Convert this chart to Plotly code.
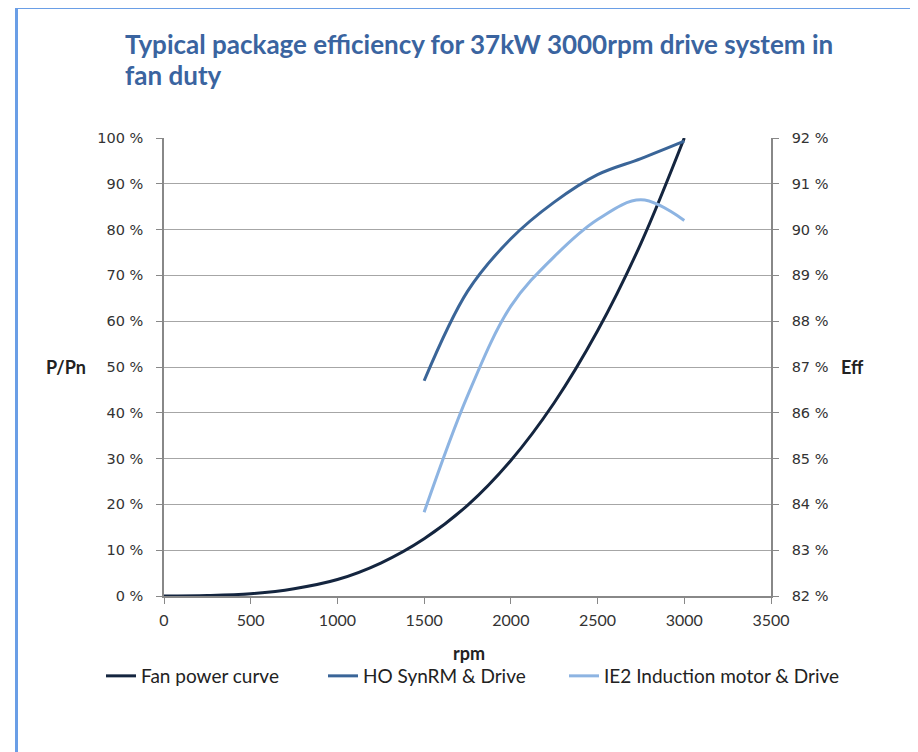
import plotly.graph_objects as go

# ---- data ----
rpm_fan = [0, 250, 500, 750, 1000, 1250, 1500, 1750, 2000, 2250, 2500, 2750, 3000]
fan_power = [0, 0.1, 0.5, 1.6, 3.6, 7.2, 12.5, 19.8, 29.6, 42.2, 57.9, 77.0, 100]

rpm_eff = [1500, 1750, 2000, 2250, 2500, 2750, 3000]
synrm_eff = [86.7, 88.65, 89.8, 90.6, 91.2, 91.55, 91.93]
ie2_eff = [83.83, 86.37, 88.33, 89.41, 90.22, 90.65, 90.2]

names = ["Fan power curve", "HO SynRM & Drive", "IE2 Induction motor & Drive"]
colors = ["#14253F", "#3A6598", "#8DB4E2"]

x_ticks = [0, 500, 1000, 1500, 2000, 2500, 3000, 3500]
y_ticks = [0, 10, 20, 30, 40, 50, 60, 70, 80, 90, 100]
y_tick_text = ["0 %", "10 %", "20 %", "30 %", "40 %", "50 %", "60 %", "70 %", "80 %", "90 %", "100 %"]
y2_ticks = [82, 83, 84, 85, 86, 87, 88, 89, 90, 91, 92]
y2_tick_text = ["82 %", "83 %", "84 %", "85 %", "86 %", "87 %", "88 %", "89 %", "90 %", "91 %", "92 %"]

title_l1 = "Typical package efficiency for 37kW 3000rpm drive system in"
title_l2 = "fan duty"

# ---- figure ----
OFF = 8  # page body margin
W, H = 918 - OFF, 752 - OFF
L, R, T, B = 164, 771, 138, 596  # plot area in page pixels

def px_x(p):
    return (p - L) / (R - L)

def px_y(p):
    return (B - p) / (B - T)

legend_ids = ["legend", "legend2", "legend3"]
legend_x = [101, 323, 564]

fig = go.Figure()
fig.add_trace(go.Scatter(x=rpm_fan, y=fan_power, name=names[0], mode="lines", legend=legend_ids[0],
                         line=dict(color=colors[0], width=3, shape="spline"), yaxis="y"))
fig.add_trace(go.Scatter(x=rpm_eff, y=synrm_eff, name=names[1], mode="lines", legend=legend_ids[1],
                         line=dict(color=colors[1], width=3, shape="spline"), yaxis="y2"))
fig.add_trace(go.Scatter(x=rpm_eff, y=ie2_eff, name=names[2], mode="lines", legend=legend_ids[2],
                         line=dict(color=colors[2], width=3, shape="spline"), yaxis="y2"))

tickfont = dict(family="DejaVu Sans", size=14.5, color="#333333")
calib = "Lato, Liberation Sans"

legend_style = dict(orientation="h", yanchor="top", xanchor="left", y=px_y(657),
                    font=dict(family=calib, size=19, color="#222222"), bgcolor="rgba(0,0,0,0)")

fig.update_layout(
    width=W, height=H,
    margin=dict(l=L - OFF, r=W - (R - OFF), t=T - OFF, b=H - (B - OFF)),
    paper_bgcolor="white", plot_bgcolor="white",
    showlegend=True,
    legend=dict(x=px_x(legend_x[0]) - (OFF / (R - L)) * 0 - (7 - 7) / (R - L), **legend_style),
    legend2=dict(x=px_x(legend_x[1]), **legend_style),
    legend3=dict(x=px_x(legend_x[2]), **legend_style),
    xaxis=dict(range=[0, 3500], tickvals=x_ticks, showgrid=False, zeroline=False,
               showline=True, linecolor="#888888", linewidth=1.5,
               ticks="outside", ticklen=6, tickcolor="#888888", ticklabelstandoff=3,
               tickfont=dict(family=calib, size=16, color="#333333")),
    yaxis=dict(range=[0, 100], tickvals=y_ticks, ticktext=y_tick_text, showgrid=True,
               gridcolor="#A6A6A6", gridwidth=1.3, zeroline=False,
               showline=True, linecolor="#888888", linewidth=1.5, ticklabelstandoff=10,
               ticks="outside", ticklen=6, tickcolor="#888888", tickfont=tickfont),
    yaxis2=dict(range=[82, 92], tickvals=y2_ticks, ticktext=y2_tick_text, overlaying="y", side="right",
                showgrid=False, zeroline=False, showline=True, linecolor="#888888", linewidth=1.5,
                ticks="outside", ticklen=6, tickcolor="#888888", ticklabelstandoff=10, tickfont=tickfont),
)

title_font = dict(family="Lato", size=26, color="#3A64A0")
fig.add_annotation(text="<b>" + title_l1 + "</b>", xref="paper", yref="paper",
                   x=px_x(123), y=px_y(44), xanchor="left", yanchor="middle",
                   showarrow=False, font=title_font)
fig.add_annotation(text="<b>" + title_l2 + "</b>", xref="paper", yref="paper",
                   x=px_x(123), y=px_y(75), xanchor="left", yanchor="middle",
                   showarrow=False, font=title_font)

label_font = dict(family="Lato", size=18, color="#222222")
fig.add_annotation(text="<b>P/Pn</b>", xref="paper", yref="paper", x=px_x(44), y=px_y(367),
                   xanchor="left", yanchor="middle", showarrow=False, font=label_font)
fig.add_annotation(text="<b>Eff</b>", xref="paper", yref="paper", x=px_x(839), y=px_y(367),
                   xanchor="left", yanchor="middle", showarrow=False, font=label_font)
fig.add_annotation(text="<b>rpm</b>", xref="paper", yref="paper", x=px_x(469), y=px_y(653),
                   xanchor="center", yanchor="middle", showarrow=False, font=label_font)

# outer frame (top and left edges visible)
frame = dict(color="#6A9EE6", width=3)
fig.add_shape(type="line", xref="paper", yref="paper", x0=px_x(16.5), x1=px_x(960),
              y0=px_y(7.5), y1=px_y(7.5), line=frame)
fig.add_shape(type="line", xref="paper", yref="paper", x0=px_x(16.5), x1=px_x(16.5),
              y0=px_y(7.5), y1=px_y(800), line=frame)

fig.write_html("out.html")
